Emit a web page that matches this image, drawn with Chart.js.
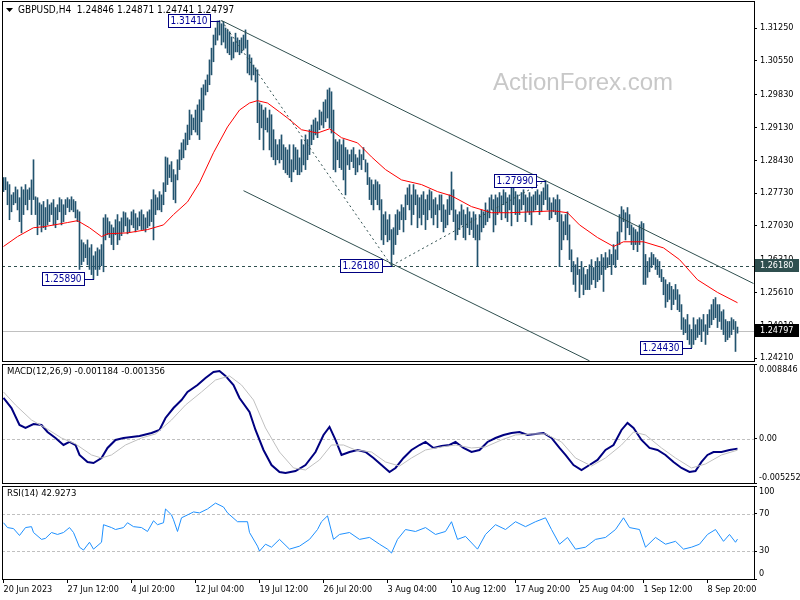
<!DOCTYPE html>
<html>
<head>
<meta charset="utf-8">
<script src="https://cdn.jsdelivr.net/npm/chart.js@4.4.0/dist/chart.umd.min.js"></script>
<style>
body { margin: 0; background: #fff; }
#wrap { position: relative; width: 800px; height: 600px; overflow: hidden; }
canvas { position: absolute; left: 0; }
</style>
</head>
<body>
<div id="wrap">
  <canvas id="main" width="800" height="362" style="top:0px"></canvas>
  <canvas id="macd" width="800" height="121" style="top:363px"></canvas>
  <canvas id="rsi" width="800" height="115" style="top:485px"></canvas>
</div>
<script>
// GBPUSD H4 bars, high / low per bar
const highs = [
  1.2806,1.2806,1.2797,1.2791,1.2769,1.2774,1.2786,1.2780,1.2763,1.2786,
  1.2780,1.2791,1.2780,1.2784,1.2801,1.2844,1.2765,1.2763,1.2752,1.2748,
  1.2755,1.2742,1.2759,1.2748,1.2752,1.2759,1.2742,1.2748,1.2763,1.2759,
  1.2748,1.2759,1.2763,1.2759,1.2765,1.2759,1.2755,1.2737,1.2733,1.2673,
  1.2667,1.2663,1.2673,1.2656,1.2663,1.2639,1.2648,1.2656,1.2652,1.2663,
  1.2720,1.2727,1.2720,1.2712,1.2705,1.2699,1.2716,1.2727,1.2712,1.2720,
  1.2733,1.2731,1.2720,1.2716,1.2733,1.2737,1.2729,1.2720,1.2733,1.2737,
  1.2727,1.2720,1.2733,1.2737,1.2759,1.2780,1.2769,1.2763,1.2776,1.2769,
  1.2795,1.2850,1.2848,1.2833,1.2840,1.2823,1.2812,1.2844,1.2865,1.2880,
  1.2887,1.2901,1.2918,1.2950,1.2940,1.2933,1.2950,1.2961,1.2972,1.2997,
  1.3004,1.3014,1.3025,1.3057,1.3082,1.3110,1.3125,1.3140,1.3141,1.3134,
  1.3138,1.3125,1.3121,1.3117,1.3106,1.3095,1.3114,1.3104,1.3099,1.3104,
  1.3110,1.3121,1.3099,1.3068,1.3061,1.3046,1.3040,1.3036,1.2965,1.2961,
  1.2950,1.2955,1.2933,1.2950,1.2940,1.2908,1.2887,1.2876,1.2887,1.2897,
  1.2876,1.2870,1.2865,1.2876,1.2844,1.2876,1.2870,1.2865,1.2848,1.2887,
  1.2876,1.2897,1.2887,1.2908,1.2918,1.2929,1.2933,1.2925,1.2950,1.2946,
  1.2967,1.2972,1.2993,1.2997,1.2989,1.2950,1.2887,1.2882,1.2887,1.2876,
  1.2887,1.2870,1.2865,1.2855,1.2865,1.2870,1.2855,1.2848,1.2865,1.2855,
  1.2870,1.2844,1.2837,1.2806,1.2801,1.2791,1.2801,1.2797,1.2791,1.2759,
  1.2727,1.2733,1.2716,1.2727,1.2695,1.2699,1.2727,1.2737,1.2733,1.2748,
  1.2742,1.2769,1.2784,1.2791,1.2769,1.2791,1.2780,1.2769,1.2763,1.2769,
  1.2776,1.2759,1.2769,1.2780,1.2776,1.2759,1.2763,1.2748,1.2769,1.2769,
  1.2748,1.2737,1.2759,1.2769,1.2818,1.2780,1.2737,1.2727,1.2733,1.2748,
  1.2737,1.2727,1.2742,1.2733,1.2720,1.2733,1.2727,1.2705,1.2727,1.2737,
  1.2733,1.2752,1.2737,1.2763,1.2769,1.2759,1.2769,1.2763,1.2774,1.2767,
  1.2780,1.2774,1.2763,1.2769,1.2784,1.2789,1.2776,1.2769,1.2759,1.2774,
  1.2780,1.2769,1.2763,1.2774,1.2765,1.2769,1.2776,1.2780,1.2769,1.2776,
  1.2784,1.2799,1.2791,1.2763,1.2752,1.2763,1.2759,1.2769,1.2759,1.2727,
  1.2712,1.2727,1.2733,1.2705,1.2652,1.2627,1.2620,1.2635,1.2610,1.2627,
  1.2614,1.2599,1.2610,1.2620,1.2631,1.2614,1.2627,1.2635,1.2627,1.2642,
  1.2635,1.2646,1.2635,1.2652,1.2642,1.2663,1.2652,1.2690,1.2727,1.2744,
  1.2737,1.2731,1.2742,1.2727,1.2705,1.2699,1.2695,1.2690,1.2705,1.2712,
  1.2708,1.2642,1.2627,1.2635,1.2646,1.2642,1.2635,1.2631,1.2627,1.2610,
  1.2593,1.2588,1.2578,1.2582,1.2574,1.2567,1.2578,1.2567,1.2556,1.2535,
  1.2507,1.2503,1.2514,1.2492,1.2482,1.2507,1.2492,1.2503,1.2507,1.2503,
  1.2514,1.2492,1.2514,1.2524,1.2535,1.2546,1.2550,1.2535,1.2535,1.2520,
  1.2524,1.2503,1.2499,1.2499,1.2507,1.2503,1.2499,1.24871
];
const lows = [
  1.2776,1.2780,1.2748,1.2716,1.2733,1.2748,1.2752,1.2737,1.2712,1.2688,
  1.2727,1.2748,1.2737,1.2759,1.2727,1.2759,1.2727,1.2684,1.2705,1.2690,
  1.2699,1.2695,1.2705,1.2712,1.2727,1.2705,1.2699,1.2716,1.2733,1.2705,
  1.2712,1.2727,1.2742,1.2733,1.2737,1.2733,1.2720,1.2712,1.2610,1.2620,
  1.2627,1.2635,1.2620,1.2610,1.2599,1.2589,1.2610,1.2597,1.2610,1.2618,
  1.2605,1.2673,1.2684,1.2678,1.2663,1.2652,1.2684,1.2663,1.2673,1.2682,
  1.2690,1.2703,1.2686,1.2690,1.2705,1.2699,1.2690,1.2695,1.2703,1.2695,
  1.2695,1.2690,1.2699,1.2703,1.2712,1.2673,1.2727,1.2737,1.2737,1.2733,
  1.2748,1.2776,1.2791,1.2806,1.2797,1.2759,1.2752,1.2801,1.2823,1.2844,
  1.2848,1.2865,1.2876,1.2887,1.2897,1.2908,1.2903,1.2897,1.2887,1.2925,
  1.2950,1.2982,1.2989,1.3004,1.3025,1.3053,1.3089,1.3099,1.3110,1.3089,
  1.3095,1.3082,1.3072,1.3068,1.3057,1.3061,1.3074,1.3074,1.3068,1.3072,
  1.3078,1.3082,1.3029,1.3025,1.3014,1.3025,1.3010,1.2923,1.2887,1.2912,
  1.2865,1.2908,1.2903,1.2865,1.2850,1.2844,1.2833,1.2844,1.2837,1.2844,
  1.2823,1.2816,1.2812,1.2806,1.2797,1.2818,1.2823,1.2812,1.2812,1.2818,
  1.2833,1.2823,1.2844,1.2855,1.2876,1.2887,1.2897,1.2891,1.2908,1.2918,
  1.2912,1.2925,1.2933,1.2912,1.2901,1.2823,1.2818,1.2844,1.2827,1.2823,
  1.2801,1.2769,1.2833,1.2823,1.2840,1.2827,1.2812,1.2818,1.2833,1.2823,
  1.2844,1.2818,1.2791,1.2759,1.2748,1.2737,1.2759,1.2748,1.2737,1.2673,
  1.2663,1.2684,1.2669,1.2673,1.2618,1.2642,1.2663,1.2684,1.2695,1.2716,
  1.2690,1.2716,1.2748,1.2737,1.2705,1.2727,1.2748,1.2699,1.2720,1.2705,
  1.2727,1.2695,1.2716,1.2737,1.2720,1.2705,1.2727,1.2699,1.2737,1.2712,
  1.2690,1.2699,1.2705,1.2727,1.2737,1.2712,1.2673,1.2684,1.2695,1.2705,
  1.2678,1.2673,1.2699,1.2684,1.2695,1.2678,1.2673,1.2616,1.2673,1.2690,
  1.2699,1.2705,1.2712,1.2720,1.2737,1.2690,1.2705,1.2727,1.2733,1.2716,
  1.2748,1.2720,1.2712,1.2737,1.2703,1.2748,1.2727,1.2712,1.2727,1.2737,
  1.2748,1.2712,1.2733,1.2727,1.2705,1.2733,1.2737,1.2748,1.2727,1.2733,
  1.2748,1.2759,1.2737,1.2716,1.2720,1.2733,1.2727,1.2712,1.2616,1.2652,
  1.2673,1.2684,1.2673,1.2631,1.2605,1.2578,1.2563,1.2599,1.2550,1.2578,
  1.2556,1.2567,1.2567,1.2567,1.2578,1.2588,1.2571,1.2584,1.2588,1.2599,
  1.2563,1.2610,1.2614,1.2620,1.2599,1.2620,1.2614,1.2631,1.2663,1.2690,
  1.2712,1.2673,1.2699,1.2684,1.2663,1.2652,1.2663,1.2648,1.2663,1.2673,
  1.2578,1.2578,1.2593,1.2605,1.2614,1.2620,1.2610,1.2599,1.2593,1.2584,
  1.2556,1.2529,1.2541,1.2546,1.2524,1.2535,1.2546,1.2524,1.2520,1.2482,
  1.2471,1.2475,1.2460,1.2450,1.2443,1.2450,1.2460,1.2465,1.2471,1.2456,
  1.2478,1.2450,1.2471,1.2486,1.2492,1.2503,1.2507,1.2486,1.2499,1.2482,
  1.2471,1.2456,1.2460,1.2465,1.2471,1.2482,1.2435,1.24741
];
const lastOHLC = [1.24846, 1.24871, 1.24741, 1.24797];

// moving average, [bar, price]
const maLine = [[0,1.2659],[7,1.2680],[15,1.2699],[20,1.2701],[32,1.2710],[37,1.2714],[43,1.2699],[49,1.2680],
  [52,1.2686],[62,1.2688],[72,1.2695],[80,1.2705],[85,1.2727],[92,1.2754],[98,1.2795],[105,1.2859],[112,1.2914],
  [118,1.2950],[123,1.2965],[127,1.2970],[132,1.2965],[138,1.2946],[142,1.2933],[149,1.2908],[157,1.2901],
  [163,1.2910],[169,1.2891],[177,1.2880],[184,1.2850],[191,1.2823],[199,1.2801],[209,1.2791],[217,1.2776],
  [224,1.2767],[234,1.2744],[244,1.2731],[253,1.2731],[265,1.2733],[275,1.2735],[282,1.2731],[288,1.2705],
  [297,1.2678],[305,1.2659],[310,1.2669],[320,1.2669],[330,1.2656],[338,1.2631],[347,1.2588],[357,1.2561],[367,1.2539]];

// MACD(12,26,9), [bar, value]
const macdLine = [[0,0.00482],[4,0.00363],[8,0.00162],[11,0.00127],[15,0.00174],[19,0.00162],[22,0.00079],[26,0.00008],
  [30,-0.00075],[33,-0.00039],[36,-0.00075],[38,-0.00193],[42,-0.00276],[45,-0.00288],[49,-0.00229],[52,-0.00110],
  [56,-0.00015],[60,0.00008],[64,0.00020],[68,0.00032],[74,0.00068],[78,0.00103],[81,0.00245],[85,0.00363],
  [89,0.00458],[92,0.00553],[97,0.00636],[101,0.00719],[105,0.00790],[108,0.00802],[111,0.00743],[115,0.00636],
  [118,0.00482],[123,0.00316],[126,0.00103],[130,-0.00134],[134,-0.00312],[138,-0.00395],[141,-0.00406],[146,-0.00383],
  [151,-0.00312],[156,-0.00158],[160,0.00044],[163,0.00139],[166,-0.00015],[169,-0.00193],[173,-0.00158],[177,-0.00134],
  [181,-0.00158],[185,-0.00229],[189,-0.00312],[193,-0.00395],[196,-0.00347],[200,-0.00229],[204,-0.00134],[208,-0.00075],
  [211,-0.00039],[215,-0.00110],[219,-0.00086],[223,-0.00075],[226,-0.00039],[230,-0.00110],[234,-0.00158],[238,-0.00134],
  [242,-0.00039],[246,0.00008],[250,0.00044],[254,0.00068],[258,0.00079],[262,0.00044],[266,0.00056],[270,0.00068],
  [274,0.00008],[278,-0.00110],[281,-0.00193],[285,-0.00312],[289,-0.00371],[293,-0.00312],[297,-0.00252],[301,-0.00134],
  [305,-0.00075],[309,0.00103],[312,0.00186],[315,0.00127],[319,-0.00015],[323,-0.00110],[327,-0.00134],[331,-0.00193],
  [335,-0.00276],[339,-0.00347],[343,-0.00395],[346,-0.00383],[349,-0.00276],[352,-0.00193],[355,-0.00158],[359,-0.00158],
  [363,-0.00134],[367,-0.00118]];
const signalLine = [[0,0.00553],[6,0.00399],[14,0.00221],[21,0.00127],[29,0.00008],[36,-0.00063],[44,-0.00193],[49,-0.00229],
  [54,-0.00193],[61,-0.00075],[69,0.00008],[76,0.00056],[84,0.00221],[91,0.00399],[99,0.00553],[106,0.00695],[113,0.00743],
  [119,0.00636],[125,0.00458],[131,0.00127],[138,-0.00158],[145,-0.00347],[151,-0.00371],[158,-0.00252],[164,-0.00075],
  [170,-0.00075],[176,-0.00134],[184,-0.00158],[191,-0.00276],[198,-0.00324],[204,-0.00229],[211,-0.00134],[219,-0.00098],
  [226,-0.00075],[234,-0.00110],[241,-0.00098],[249,-0.00015],[256,0.00044],[264,0.00056],[271,0.00056],[279,-0.00039],
  [286,-0.00229],[294,-0.00324],[301,-0.00229],[309,-0.00075],[315,0.00079],[321,0.00044],[329,-0.00110],[336,-0.00229],
  [344,-0.00347],[351,-0.00300],[359,-0.00193],[367,-0.00136]];
const macdLast = -0.001184, signalLast = -0.001356;

// RSI(14), [bar, value]
const rsiLine = [[0,60.5],[2,55.3],[5,54.2],[8,46.8],[11,55.3],[14,56.3],[15,50.0],[19,42.6],[21,43.7],[24,50.0],[27,47.9],
  [30,50.0],[33,55.3],[35,50.0],[38,34.2],[40,31.1],[43,39.5],[45,32.1],[49,39.5],[50,58.4],[54,55.3],[56,53.2],[60,55.3],
  [62,60.5],[65,56.3],[69,55.3],[72,51.1],[75,62.6],[77,58.4],[80,60.5],[81,75.3],[84,68.9],[85,63.7],[87,51.1],[89,65.8],
  [92,68.9],[95,72.1],[98,71.1],[102,75.3],[106,81.6],[110,77.4],[112,71.1],[117,61.6],[122,61.6],[123,50.0],[127,35.3],
  [128,30.0],[131,37.4],[134,34.2],[138,42.6],[143,32.1],[148,35.3],[153,42.6],[157,53.2],[159,61.6],[162,67.9],[165,42.6],
  [168,47.9],[173,50.0],[178,42.6],[183,44.7],[188,37.4],[192,32.1],[194,27.9],[197,42.6],[201,53.2],[206,51.1],[211,55.3],
  [216,47.9],[221,51.1],[224,61.6],[227,42.6],[231,45.8],[237,32.1],[241,47.9],[246,58.4],[251,53.2],[256,61.6],[261,56.3],
  [266,61.6],[271,65.8],[274,53.2],[278,37.4],[282,44.7],[286,32.1],[291,34.2],[296,42.6],[301,44.7],[306,53.2],[310,65.8],
  [313,55.3],[318,53.2],[321,34.2],[326,44.7],[331,37.4],[336,40.5],[340,32.1],[344,34.2],[348,37.4],[352,47.9],[356,53.2],
  [360,40.5],[363,47.9],[366,39.5],[367,42.9]];
const rsiLast = 42.9273;
const rsiLevels = [70, 30];

// axes
const priceTicks = [1.3125, 1.3055, 1.2983, 1.2913, 1.2843, 1.2773, 1.2703, 1.2631, 1.2561, 1.2491, 1.2421];
const priceRange = [1.24147, 1.31826];
const macdRange = [-0.005252, 0.008846];
const dateTicks = [0, 32, 64, 96, 128, 160, 192, 224, 256, 288, 320, 352];
const dateLabels = ['20 Jun 2023', '27 Jun 12:00', '4 Jul 20:00', '12 Jul 04:00', '19 Jul 12:00', '26 Jul 20:00',
  '3 Aug 04:00', '10 Aug 12:00', '17 Aug 20:00', '25 Aug 04:00', '1 Sep 12:00', '8 Sep 20:00'];

// drawn objects
const pivots = [[108, 1.3141], [45, 1.2589], [194, 1.2618], [271, 1.2799], [344, 1.2443]];
const channelTop = [[109, 1.3141], [375, 1.2580]];
const channelBottom = [[120, 1.2778], [293, 1.2415]];
const dashLegs = [[[109, 1.3141], [194, 1.2618]], [[194, 1.2618], [271, 1.2799]]];
const support = 1.2618;

const FONT = "'DejaVu Sans Condensed', 'Liberation Sans', sans-serif";
const X_MIN = -0.75, X_MAX = 375.25;
const BAR = '#22536e', SLATE = '#2f4f4f';

Chart.defaults.animation = false;
Chart.defaults.font.family = FONT;
Chart.defaults.font.size = 9;
Chart.defaults.color = '#000';
Chart.defaults.plugins.legend.display = false;
Chart.defaults.plugins.tooltip.enabled = false;

const pts = arr => arr.map(([x, y]) => ({x, y}));

const xHidden = {type: 'linear', min: X_MIN, max: X_MAX, display: false, offset: false, grid: {offset: false}};

function yAxis(min, max, ticks, fmt, pad) {
  return {
    type: 'linear', position: 'right', min, max,
    afterBuildTicks: s => { s.ticks = ticks.map(v => ({value: v})); },
    afterFit: s => { s.width = 46; s.paddingTop = 0; s.paddingBottom = 0; },
    grid: {drawOnChartArea: false, drawTicks: true, tickLength: 3, color: '#000'},
    border: {display: false},
    ticks: {callback: fmt, padding: pad, autoSkip: false}
  };
}

const frame = {
  id: 'frame',
  afterDraw(c) {
    const {ctx, chartArea: a} = c;
    ctx.save();
    ctx.strokeStyle = '#000';
    ctx.lineWidth = 1;
    ctx.strokeRect(a.left + 0.5, a.top + 0.5, a.right - a.left, a.bottom - a.top);
    ctx.restore();
  }
};

function panelText(text) {
  return {
    id: 'panelText',
    afterDatasetsDraw(c) {
      const {ctx, chartArea: a} = c;
      ctx.save();
      ctx.font = '9.5px ' + FONT;
      ctx.fillStyle = '#000';
      ctx.textBaseline = 'middle';
      ctx.fillText(text, a.left + 5, a.top + 8);
      ctx.restore();
    }
  };
}

function hline(c, scaleId, v, color, dash) {
  const {ctx, chartArea: a} = c;
  const y = Math.round(c.scales[scaleId].getPixelForValue(v)) + 0.5;
  ctx.save();
  ctx.strokeStyle = color;
  ctx.lineWidth = 1;
  ctx.setLineDash(dash);
  ctx.beginPath();
  ctx.moveTo(a.left, y);
  ctx.lineTo(a.right, y);
  ctx.stroke();
  ctx.restore();
}

const pix = (c, p) => [c.scales.x.getPixelForValue(p[0]), c.scales.y.getPixelForValue(p[1])];

function seg(c, a, b) {
  const p = pix(c, a), q = pix(c, b);
  c.ctx.beginPath();
  c.ctx.moveTo(p[0], p[1]);
  c.ctx.lineTo(q[0], q[1]);
  c.ctx.stroke();
}

const mainDecor = {
  id: 'mainDecor',
  beforeDatasetsDraw(c) {
    const ctx = c.ctx;
    ctx.save();
    ctx.fillStyle = '#c8c8c8';
    ctx.font = "24px 'Liberation Sans', Arial, sans-serif";
    ctx.textAlign = 'center';
    ctx.textBaseline = 'middle';
    ctx.fillText('ActionForex.com', 583, 83);
    ctx.restore();
    hline(c, 'y', support, SLATE, [3, 3]);
    hline(c, 'y', lastOHLC[3], '#c0c0c0', []);
  },
  afterDatasetsDraw(c) {
    const {ctx, chartArea: a} = c;
    ctx.save();
    ctx.beginPath();
    ctx.rect(a.left, a.top, a.right - a.left, a.bottom - a.top);
    ctx.clip();
    ctx.strokeStyle = SLATE;
    ctx.lineWidth = 1;
    seg(c, channelTop[0], channelTop[1]);
    seg(c, channelBottom[0], channelBottom[1]);
    ctx.setLineDash([2, 3]);
    dashLegs.forEach(l => seg(c, l[0], l[1]));
    ctx.setLineDash([]);

    // header
    ctx.fillStyle = '#000';
    ctx.beginPath();
    ctx.moveTo(a.left + 4, a.top + 7);
    ctx.lineTo(a.left + 11, a.top + 7);
    ctx.lineTo(a.left + 7.5, a.top + 11);
    ctx.closePath();
    ctx.fill();
    ctx.font = '10px ' + FONT;
    ctx.textBaseline = 'middle';
    ctx.fillText('GBPUSD,H4  ' + lastOHLC.map(v => v.toFixed(5)).join(' '), a.left + 16, a.top + 9);

    // pivot labels
    ctx.font = '10px ' + FONT;
    ctx.textAlign = 'center';
    pivots.forEach(p => {
      const [x, y0] = pix(c, p);
      const y = Math.round(y0);
      const r = Math.round(x) - 10, w = 42;
      ctx.fillStyle = '#fff';
      ctx.fillRect(r - w, y - 6, w, 13);
      ctx.strokeStyle = '#000080';
      ctx.strokeRect(r - w + 0.5, y - 6.5, w, 13);
      ctx.beginPath();
      ctx.moveTo(r, y + 0.5);
      ctx.lineTo(Math.round(x), y + 0.5);
      ctx.stroke();
      ctx.fillStyle = '#000099';
      ctx.fillText(p[1].toFixed(5), r - w / 2, y + 0.5);
    });
    ctx.restore();
  },
  afterDraw(c) {
    const {ctx, chartArea: a} = c;
    ctx.save();
    ctx.font = '9px ' + FONT;
    ctx.textBaseline = 'middle';
    [[support, SLATE], [lastOHLC[3], '#000']].forEach(([v, bg]) => {
      const y = Math.round(c.scales.y.getPixelForValue(v));
      ctx.fillStyle = bg;
      ctx.fillRect(a.right + 1, y - 7, 44, 13);
      ctx.fillStyle = '#fff';
      ctx.fillText(v.toFixed(5), a.right + 6, y - 0.5);
    });
    ctx.restore();
  }
};

new Chart(document.getElementById('main'), {
  type: 'bar',
  data: {
    datasets: [{
      type: 'bar',
      data: highs.map((h, i) => ({x: i, y: [lows[i], h]})),
      backgroundColor: BAR,
      borderWidth: 0,
      barThickness: 1,
      grouped: false,
      order: 2
    }, {
      type: 'line',
      data: pts(maLine),
      borderColor: '#ff0000',
      borderWidth: 1,
      pointRadius: 0,
      tension: 0,
      order: 1
    }]
  },
  options: {
    responsive: false,
    devicePixelRatio: 1,
    layout: {padding: {top: 1, bottom: 1, left: 2, right: 0}},
    scales: {
      x: xHidden,
      y: yAxis(priceRange[0], priceRange[1], priceTicks, v => v.toFixed(5), 3)
    }
  },
  plugins: [mainDecor, frame]
});

new Chart(document.getElementById('macd'), {
  type: 'line',
  data: {
    datasets: [{
      data: pts(signalLine), borderColor: '#c0c0c0', borderWidth: 1, pointRadius: 0
    }, {
      data: pts(macdLine), borderColor: '#000080', borderWidth: 2, pointRadius: 0
    }]
  },
  options: {
    responsive: false,
    devicePixelRatio: 1,
    layout: {padding: {top: 1, bottom: 1, left: 2, right: 0}},
    scales: {
      x: xHidden,
      y: yAxis(macdRange[0], macdRange[1], [macdRange[1], 0, macdRange[0]], v =>
        v === macdRange[1] ? ['', v.toFixed(6)] : v === macdRange[0] ? [v.toFixed(6), ''] : '0.00', 2)
    }
  },
  plugins: [{
    id: 'macdLevels',
    beforeDatasetsDraw(c) { hline(c, 'y', 0, '#c0c0c0', [3, 2]); }
  }, panelText('MACD(12,26,9) ' + macdLast.toFixed(6) + ' ' + signalLast.toFixed(6)), frame]
});

new Chart(document.getElementById('rsi'), {
  type: 'line',
  data: {
    datasets: [{
      data: pts(rsiLine), borderColor: '#1e90ff', borderWidth: 1, pointRadius: 0
    }]
  },
  options: {
    responsive: false,
    devicePixelRatio: 1,
    layout: {padding: {top: 1, bottom: 0, left: 2, right: 0}},
    scales: {
      x: {
        type: 'linear', min: X_MIN, max: X_MAX, position: 'bottom', offset: false,
        afterBuildTicks: s => { s.ticks = dateTicks.map(v => ({value: v})); },
        afterFit: s => { s.height = 21; s.paddingLeft = 0; s.paddingRight = 0; },
        grid: {drawOnChartArea: false, drawTicks: true, tickLength: 4, color: '#000', offset: false},
        border: {display: false},
        ticks: {callback: (v, i) => dateLabels[i], align: 'start', maxRotation: 0, minRotation: 0, autoSkip: false, padding: 1}
      },
      y: yAxis(0, 100, [100, 70, 30, 0], v =>
        v === 100 ? ['', '100'] : v === 0 ? ['0', ''] : String(v), 2)
    }
  },
  plugins: [{
    id: 'rsiLevels',
    beforeDatasetsDraw(c) { rsiLevels.forEach(l => hline(c, 'y', l, '#c0c0c0', [3, 2])); }
  }, panelText('RSI(14) ' + rsiLast.toFixed(4)), frame]
});
</script>
</body>
</html>
